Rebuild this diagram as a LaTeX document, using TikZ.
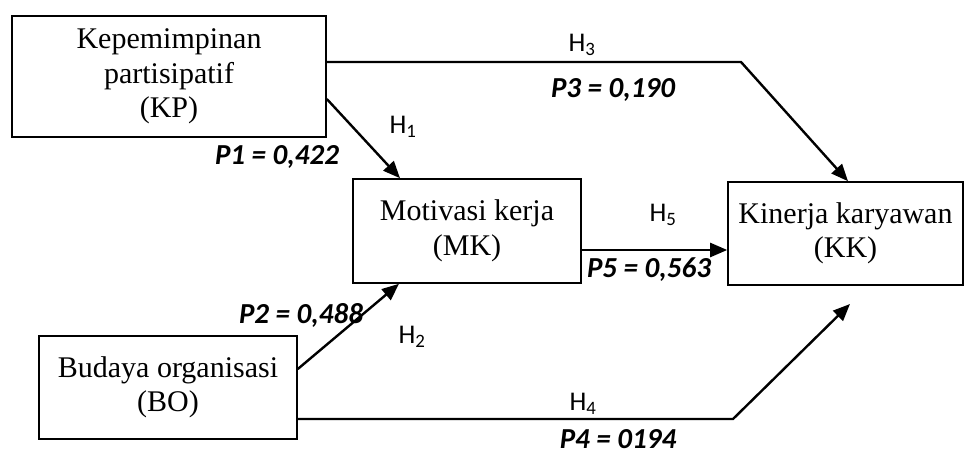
\documentclass[tikz,border=0pt]{standalone}
\usepackage{fontspec}
\setmainfont{Liberation Serif}
\newfontfamily\calib{Carlito}
\usetikzlibrary{arrows.meta}
\begin{document}
\begin{tikzpicture}[x=1pt,y=-1pt,
  varbox/.style={draw,line width=1.6pt,rectangle,align=center,inner sep=0pt,
    font=\fontsize{30}{34.5}\selectfont},
  conn/.style={line width=2.4pt,line join=miter},
  arr/.style={conn,-{Triangle[length=17pt,width=14pt]}},
  plabel/.style={font=\calib\bfseries\itshape\fontsize{29}{32}\selectfont,inner sep=0pt},
  hlabel/.style={font=\calib\fontsize{27}{30}\selectfont,inner sep=0pt}]
\useasboundingbox (0,0) rectangle (965,454);
\node[varbox,minimum width=314pt,minimum height=121pt] (kp) at (169,76.5) {Kepemimpinan\\partisipatif\\(KP)};
\node[varbox,minimum width=228pt,minimum height=104pt] (mk) at (467,231) {Motivasi kerja\\(MK)};
\node[varbox,minimum width=235pt,minimum height=103pt] (kk) at (845.5,233.5) {Kinerja karyawan\\(KK)};
\node[varbox,minimum width=258pt,minimum height=103pt] (bo) at (168,387.5) {Budaya organisasi\\(BO)};
\coordinate (b3) at (741,62);
\coordinate (b4) at (733,419);
\coordinate (t4) at (850,304);
\draw[arr] ([yshift=14.5pt]kp.east) -- (b3) -- ([xshift=2.5pt]kk.north);
\draw[arr] ([yshift=-22.5pt]kp.east) -- ([xshift=-67pt]mk.north);
\draw[arr] ([yshift=-19pt]mk.east) -- ([yshift=-19pt]mk.east -| kk.west);
\draw[arr] ([yshift=18.5pt]bo.east) -- ([xshift=-68pt]mk.south);
\draw[arr] ([yshift=-31.5pt]bo.east) -- (b4) -- (t4);
\node[hlabel] (h3) at (582,45) {H\textsubscript{3}};
\node[plabel] (p3) at (613,90) {P3 = 0,190};
\node[hlabel] (h1) at (403,127) {H\textsubscript{1}};
\node[plabel] (p1) at (277,157) {P1 = 0,422};
\node[hlabel] (h5) at (663,215) {H\textsubscript{5}};
\node[plabel] (p5) at (649,270) {P5 = 0,563};
\node[plabel] (p2) at (301,315) {P2 = 0,488};
\node[hlabel] (h2) at (412,337) {H\textsubscript{2}};
\node[hlabel] (h4) at (583,404) {H\textsubscript{4}};
\node[plabel] (p4) at (618,439) {P4 = 0194};
\end{tikzpicture}
\end{document}
